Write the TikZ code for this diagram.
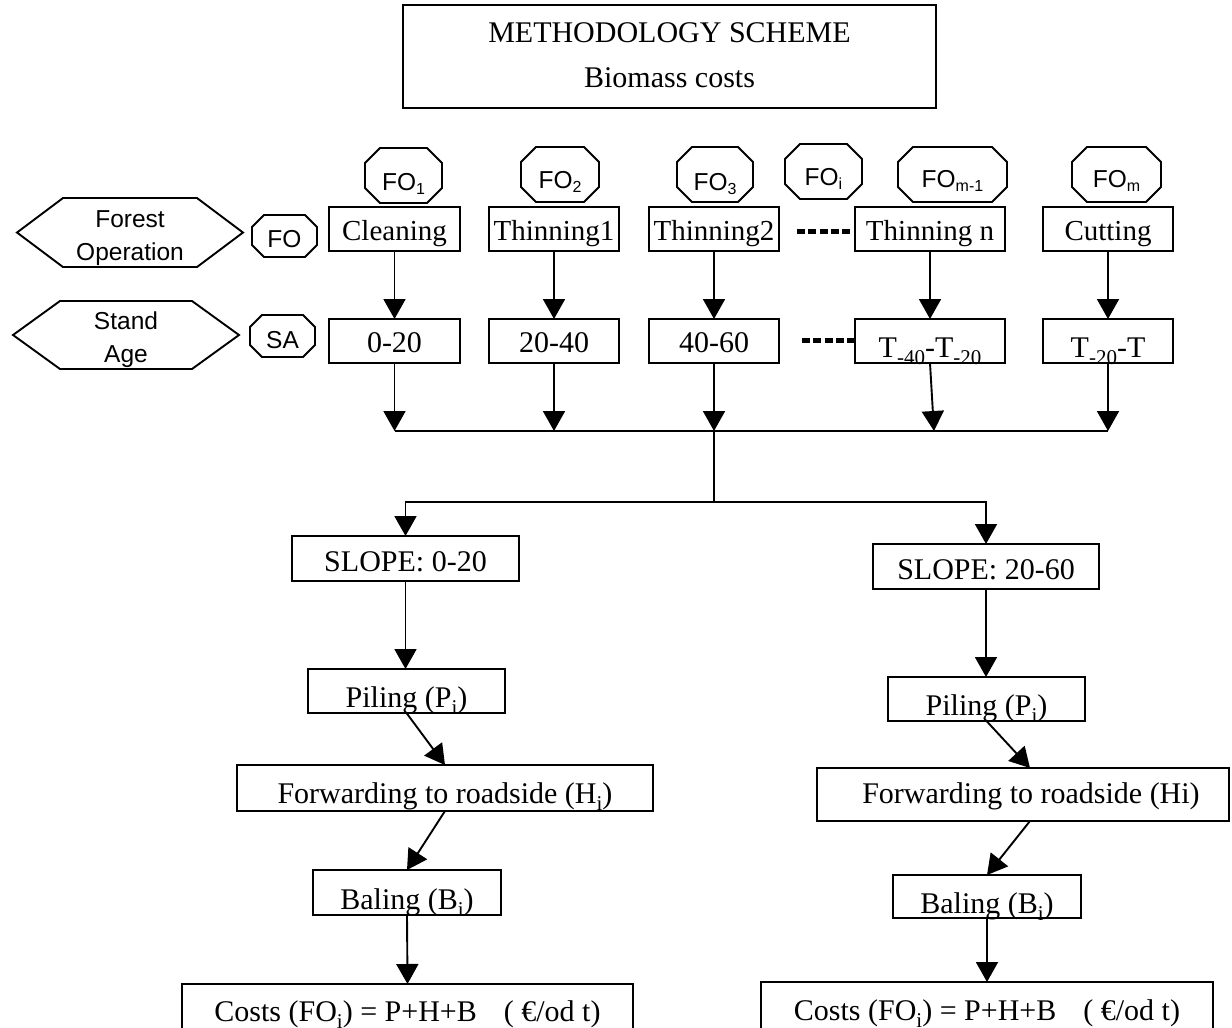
\documentclass[tikz,border=0pt]{standalone}
\usepackage{fontspec}
\setmainfont{Liberation Serif}
\setsansfont{Liberation Sans}
\usetikzlibrary{arrows.meta,calc}

% text sizes
\newcommand\txtOp{\fontsize{29}{29}\selectfont}
\newcommand\txtBox{\fontsize{30}{30}\selectfont}
\newcommand\txtTag{\sffamily\fontsize{24.5}{33}\selectfont}
% lowered indices for serif and sans labels
\newcommand\ssub[1]{\raisebox{-7pt}{\fontsize{21}{21}\selectfont #1}}
\newcommand\fsub[1]{\raisebox{-4pt}{\fontsize{16}{16}\selectfont #1}}

% octagon outline around a node: node name, corner cut
\newcommand\octframe[2]{\draw[frame] ($(#1.north west)+(#2,0)$) -- ($(#1.north east)+(-#2,0)$) -- ($(#1.north east)+(0,#2)$) -- ($(#1.south east)+(0,-#2)$) -- ($(#1.south east)+(-#2,0)$) -- ($(#1.south west)+(#2,0)$) -- ($(#1.south west)+(0,-#2)$) -- ($(#1.north west)+(0,#2)$) -- cycle;}
% hexagon outline around a node: node name, slant of the pointed ends
\newcommand\hexframe[2]{\draw[frame] ($(#1.north west)+(#2,0)$) -- ($(#1.north east)+(-#2,0)$) -- (#1.east) -- ($(#1.south east)+(-#2,0)$) -- ($(#1.south west)+(#2,0)$) -- (#1.west) -- cycle;}

\tikzset{
  frame/.style={line width=1.9pt},
  box/.style={draw, line width=1.9pt, rectangle, inner sep=0pt, outer sep=0pt, font=\txtBox},
  opbox/.style={box, font=\txtOp},
  tag/.style={inner sep=0pt, outer sep=0pt, font=\txtTag, align=center},
  dim/.style n args={3}{minimum width=#1pt, text height=#2pt, text depth=#3pt},
  conn/.style={line width=1.9pt},
  arr/.style={conn, -{Triangle[width=22pt,length=20pt]}},
  dots/.style={line width=5pt, dash pattern=on 8pt off 3.3pt},
}

\begin{document}
\begin{tikzpicture}[x=1pt,y=-1pt]
\useasboundingbox (0,0) rectangle (1232,1028);
\clip (0,0) rectangle (1232,1028);
\fill[white] (0,0) rectangle (1232,1028);

% heading
\node[box, dim={533}{37}{66}] (title) at (669.5,56.5) {METHODOLOGY SCHEME};
\node[anchor=base, font=\txtBox, inner sep=0pt] (subtitle) at (669.5,87) {Biomass costs};

% row labels
\node[tag, minimum width=226pt, minimum height=69pt] (hfo) at (130,232.5) {\rule{0pt}{28pt}Forest\\Operation};
\hexframe{hfo}{46}
\node[tag, minimum width=226pt, minimum height=68pt] (hsa) at (126,335) {\rule{0pt}{27pt}Stand\\Age};
\hexframe{hsa}{47}
\node[tag, dim={65}{32}{10}] (ofo) at (284.5,236) {FO};
\octframe{ofo}{12}
\node[tag, dim={65}{33}{9}] (osa) at (282.5,336) {SA};
\octframe{osa}{12}

% operation tags
\node[tag, dim={77}{42}{13}] (o1) at (403.5,175.5) {FO\fsub{1}};
\octframe{o1}{15}
\node[tag, dim={78}{41}{14}] (o2) at (560,174.5) {FO\fsub{2}};
\octframe{o2}{15}
\node[tag, dim={76}{43}{12}] (o3) at (715,174.5) {FO\fsub{3}};
\octframe{o3}{15}
\node[tag, dim={77}{41}{14}] (oi) at (823.5,171.5) {FO\fsub{i}};
\octframe{oi}{15}
\node[tag, dim={109}{40}{15}] (om1) at (952.5,174.5) {FO\fsub{m-1}};
\octframe{om1}{15}
\node[tag, dim={89}{40}{15}] (om) at (1116.5,174.5) {FO\fsub{m}};
\octframe{om}{15}

% forest operations
\node[opbox, dim={131}{33}{11}] (op1) at (394.5,229) {Cleaning};
\node[opbox, dim={130}{33}{11}] (op2) at (554,229) {Thinning1};
\node[opbox, dim={130}{33}{11}] (op3) at (714,229) {Thinning2};
\node[opbox, dim={150}{33}{11}] (op4) at (930,229) {Thinning n};
\node[opbox, dim={130}{33}{11}] (op5) at (1108,229) {Cutting};

% stand ages
\node[box, dim={131}{33}{11}] (age1) at (394.5,341) {0-20};
\node[box, dim={130}{33}{11}] (age2) at (554,341) {20-40};
\node[box, dim={130}{33}{11}] (age3) at (714,341) {40-60};
\node[box, dim={150}{38}{6}] (age4) at (930,341) {T\ssub{-40}-T\ssub{-20}};
\node[box, dim={130}{38}{6}] (age5) at (1108,341) {T\ssub{-20}-T};

\draw[dots] ($(op3.east)+(18,2)$) -- ($(op4.west)+(-4,2)$);
\draw[dots] ($(age3.east)+(23,-1)$) -- ($(age4.west)+(-1,-1)$);

\foreach \n in {1,...,5} \draw[arr] (op\n.south) -- (age\n.north);

% collecting line
\coordinate (busL) at (394.5,431);
\coordinate (busR) at (1108,431);
\draw[conn] (busL) -- (busR);
\foreach \n in {1,2,3,5} \draw[arr] (age\n.south) -- (age\n.south |- busL);
\draw[arr] (age4.south) -- ($(age4.south |- busL)+(4,0)$);

% slope classes
\node[box, dim={227}{35}{10}] (s1) at (405.5,558.5) {SLOPE: 0-20};
\node[box, dim={226}{35}{10}] (s2) at (986,566.5) {SLOPE: 20-60};
\coordinate (split) at (714,502);
\draw[conn] (age3.south |- busL) -- (split);
\draw[arr] (split) -| (s1.north);
\draw[arr] (split) -| (s2.north);

% gentle slope chain
\node[box, dim={197}{38}{6}] (p1) at (406.5,691) {Piling (P\ssub{i})};
\node[box, dim={416}{38}{8}] (f1) at (445,788) {Forwarding to roadside (H\ssub{i})};
\node[box, dim={188}{39}{6}] (b1) at (407,892.5) {Baling (B\ssub{i})};
\node[box, dim={451}{37}{11}] (c1) at (407.5,1008) {Costs (FO\ssub{i}) = P+H+B\hspace{27pt}( €/od t)};
\draw[arr] (s1.south) -- (s1.south |- p1.north);
\draw[arr] (p1.south) -- (f1.north);
\draw[arr] (f1.south) -- (b1.north);
\draw[arr] (b1.south) -- (c1.north);

% steep slope chain
\node[box, dim={197}{38}{6}] (p2) at (986.5,699) {Piling (P\ssub{i})};
\node[box, dim={412}{35}{18}] (f2) at (1023,794.5) {\hspace{16pt}Forwarding to roadside (Hi)};
\node[box, dim={188}{38}{5}] (b2) at (987,896.5) {Baling (B\ssub{i})};
\node[box, dim={452}{38}{11}] (c2) at (987,1006.5) {Costs (FO\ssub{i}) = P+H+B\hspace{27pt}( €/od t)};
\draw[arr] (s2.south) -- (s2.south |- p2.north);
\draw[arr] (p2.south) -- ($(f2.north)+(7,0)$);
\draw[arr] ($(f2.south)+(7,0)$) -- (b2.north);
\draw[arr] (b2.south) -- (c2.north);
\end{tikzpicture}
\end{document}
